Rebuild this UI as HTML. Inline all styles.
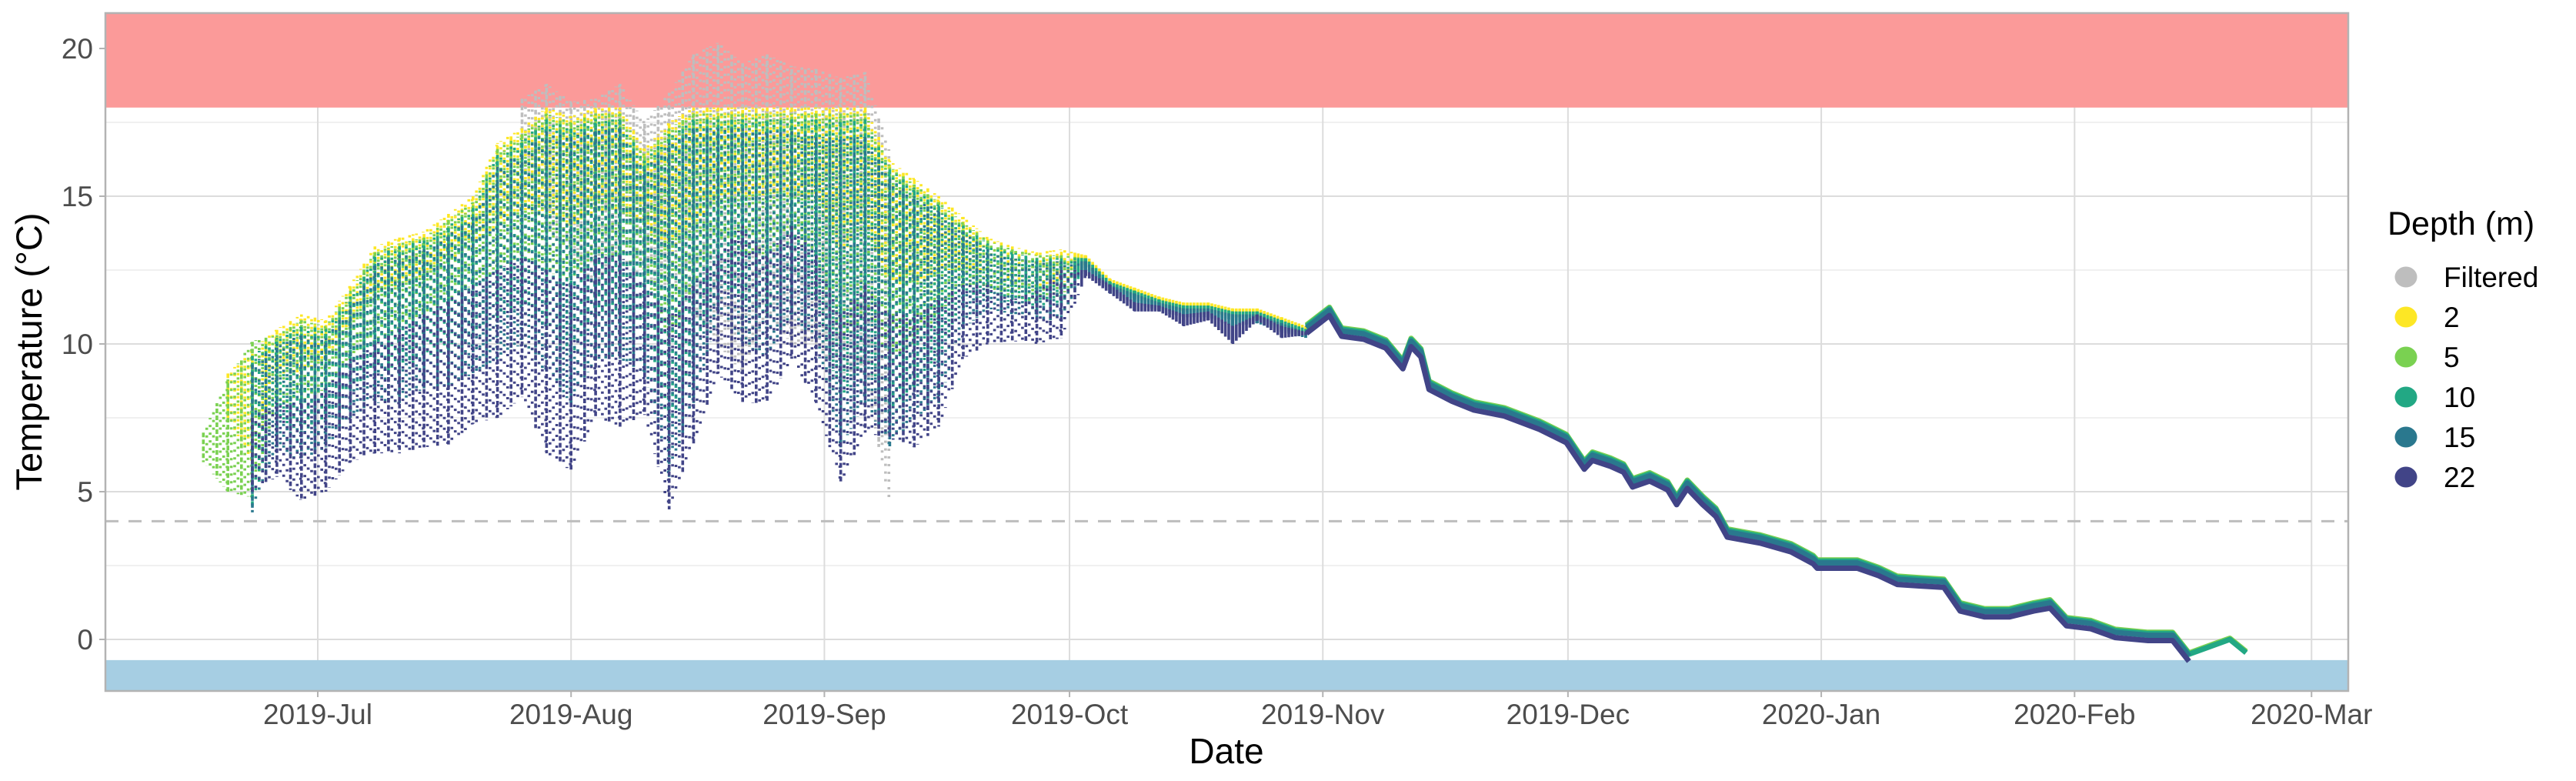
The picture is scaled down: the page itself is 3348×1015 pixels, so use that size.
<!DOCTYPE html>
<html><head><meta charset="utf-8"><title>Temperature by depth</title>
<style>
html,body{margin:0;padding:0;background:#fff;}
svg{display:block;font-family:"Liberation Sans",Arial,sans-serif;}
</style></head>
<body>
<svg id="chart" width="3348" height="1015" viewBox="0 0 3348 1015" xmlns="http://www.w3.org/2000/svg">
  <rect x="0" y="0" width="3348" height="1015" fill="#ffffff"/>
  <g id="grid"></g>
  <g id="bands"></g>
  <g id="marks"></g>
  <g id="axes"></g>
  <text transform="translate(54,457) rotate(-90)" text-anchor="middle" font-size="47" fill="#000">Temperature (°C)</text>
  <text x="1594" y="992" text-anchor="middle" font-size="46" fill="#000">Date</text>
  <g>
    <text x="3103" y="305" font-size="43" fill="#000">Depth (m)</text>
    <g id="legend-items"></g>
  </g>
</svg>
<script>
// ---- data ----
const monthLabels = ["2019-Jul","2019-Aug","2019-Sep","2019-Oct","2019-Nov","2019-Dec","2020-Jan","2020-Feb","2020-Mar"];
const monthDays = [0,31,62,92,123,153,184,215,244]; // days since 2019-07-01
const yTicks = [0,5,10,15,20];
const yMinor = [2.5,7.5,12.5,17.5];
const upperLimit = 18, lowerLimit = -0.7, refLine = 4;
const depthNames = ["Filtered","2","5","10","15","22"];
const depthColors = ["#bebebe","#fde725","#7ad151","#22a884","#2a788e","#414487"];

const sDays = [-14,-11,-8,-5,-2,1,4,7,10,13,16,19,22,25,28,31,34,37,40,43,46,49,52,55,58,61,64,67,70,73,76,79,82,85,88,91,94,97,100,103,106,109,112,115,118,121];
const hi2 = [null,9.0,9.8,10.5,11.0,10.8,12.0,13.3,13.6,13.8,14.4,15.0,16.8,17.3,18.0,17.7,18.0,18.0,16.6,17.5,18.0,18.0,18.0,18.0,18.0,18.0,18.0,18.0,16.2,15.6,15.0,14.3,13.6,13.3,13.1,13.2,13.0,12.2,11.9,11.6,11.4,11.4,11.2,11.2,10.9,10.6];
const lo2 = [null,7.5,6.0,9.0,9.0,9.5,10.5,11.5,12.0,12.3,12.8,13.3,14.0,14.5,14.5,14.0,14.5,14.5,14.0,13.0,14.0,15.0,15.0,15.0,15.0,15.0,13.0,14.0,12.0,12.0,12.5,12.5,12.3,12.0,11.8,12.0,12.7,11.9,11.6,11.3,11.1,11.1,10.9,10.9,10.6,10.3];
const hi5 = [7.0,8.8,10.1,10.3,10.8,10.6,11.8,13.1,13.4,13.6,14.2,14.8,16.6,17.1,17.8,17.5,17.8,17.8,16.4,17.3,17.8,17.8,17.8,17.8,17.8,17.8,17.8,17.8,16.0,15.4,14.8,14.1,13.5,13.2,13.0,13.0,12.9,12.1,11.8,11.5,11.3,11.3,11.1,11.1,10.8,10.5];
const lo5 = [6.0,5.0,4.8,8.0,8.0,8.5,9.5,10.0,10.5,11.0,11.5,12.0,12.5,13.0,12.5,12.0,13.0,13.0,12.5,10.0,12.0,13.5,13.0,13.0,13.5,13.0,10.0,11.0,9.5,10.0,11.0,12.0,11.9,11.6,11.4,11.6,12.7,11.9,11.6,11.3,11.1,11.1,10.9,10.9,10.6,10.3];
const hi10 = [null,null,9.6,10.2,10.6,10.5,11.6,13.0,13.3,13.5,14.0,14.6,16.4,16.9,17.6,17.3,17.6,17.6,16.2,17.1,17.6,17.6,17.6,17.6,17.6,17.6,17.6,17.6,15.9,15.3,14.7,14.0,13.4,13.1,12.9,12.9,12.9,12.1,11.8,11.5,11.3,11.3,11.1,11.1,10.8,10.5];
const lo10 = [null,null,4.5,7.5,7.0,7.5,8.5,9.0,9.2,9.5,9.8,10.2,10.8,11.3,10.5,9.5,11.0,11.0,10.5,7.0,9.5,12.0,11.5,11.0,12.5,11.5,8.0,9.5,7.5,8.5,9.5,11.5,11.6,11.4,11.2,11.3,12.6,11.8,11.5,11.2,11.0,11.0,10.8,10.8,10.5,10.2];
const hi15 = [null,null,9.3,10.0,10.3,10.2,11.3,12.7,13.0,13.2,13.7,14.3,16.0,16.5,17.2,17.0,17.3,17.3,15.9,16.8,17.3,17.3,17.3,17.2,17.2,17.0,17.0,17.0,15.6,15.0,14.5,13.8,13.2,12.9,12.8,12.8,12.8,12.0,11.7,11.4,11.2,11.2,11.0,11.0,10.7,10.4];
const lo15 = [null,null,4.3,6.5,6.0,6.5,7.5,8.0,8.0,8.5,8.5,9.0,9.5,10.0,9.0,8.0,9.5,9.5,9.0,5.5,8.0,11.0,10.0,9.5,11.0,10.0,6.5,8.0,6.5,7.5,8.0,10.5,11.2,11.0,10.8,10.8,12.5,11.7,11.4,11.1,10.9,10.9,10.6,10.7,10.4,10.2];
const hi22 = [null,null,7.5,8.0,8.0,8.5,9.5,10.0,10.5,11.0,11.5,12.0,12.5,13.0,12.5,12.0,13.0,13.0,12.0,11.0,12.0,13.0,14.0,13.0,14.0,13.0,11.0,12.0,11.0,11.0,11.5,12.0,12.0,11.5,11.8,12.5,12.5,12.0,11.4,11.3,11.0,11.1,10.6,11.0,10.6,10.4];
const lo22 = [null,null,5.0,5.5,4.7,5.0,6.0,6.3,6.3,6.5,6.6,7.3,7.5,8.2,6.3,5.7,7.5,7.2,7.6,4.4,6.6,9.0,8.0,8.0,9.5,8.0,5.3,7.0,6.8,6.5,7.2,9.5,10.0,10.1,10.0,10.2,12.3,11.7,11.1,11.1,10.6,10.8,10.0,10.8,10.2,10.3];

const gDays = [25,28,31,34,37,40,43,46,49,52,55,58,61,64,67,70];
const gHi = [18.3,18.8,18.2,18.3,18.8,17.5,18.5,19.8,20.2,19.5,19.8,19.4,19.3,19.0,19.2,16.5];
const gLo = [16.0,14.0,13.0,12.0,13.0,12.0,12.0,11.0,10.0,9.0,11.0,10.0,10.0,9.0,9.0,4.5];

const wDays = [121,123.8,125.3,128,130.7,132.8,133.8,135,136,138.8,141.5,145.2,149.5,152.8,155,156,158.2,159.8,160.9,163,165.2,166.3,167.6,169.5,171.1,172.5,176.5,180.3,183,183.5,188.4,191,193.3,196,199,201,204,207,210,212,214,217,220,224,227,229,232,234,236];
const wTemp = [10.5,11.1,10.4,10.3,10.0,9.3,10.05,9.7,8.6,8.2,7.9,7.7,7.25,6.8,5.9,6.2,6.0,5.8,5.3,5.5,5.2,4.7,5.25,4.7,4.3,3.6,3.4,3.1,2.7,2.55,2.55,2.3,2.0,1.95,1.9,1.1,0.9,0.9,1.1,1.2,0.6,0.5,0.2,0.1,0.1,-0.6,-0.3,-0.1,-0.55];
const wOffset = [0.12,0.14,0.1,0.04,-0.14]; // depth 2,5,10,15,22
const wLastDay = [227,236,236,229,229];

// ---- scales ----
const X0 = 137, X1 = 3052, Y0 = 17, Y1 = 898;
function xs(d){ return 413 + d * 10.62; }
function ys(t){ return 831 - 38.4 * t; }
const NS = "http://www.w3.org/2000/svg";
function mk(tag, attrs, parent){
  const e = document.createElementNS(NS, tag);
  for (const k in attrs) e.setAttribute(k, attrs[k]);
  parent.appendChild(e);
  return e;
}

// grid
const grid = document.getElementById("grid");
yMinor.forEach(v => {
  const l = mk("line", {x1:X0, x2:X1, y1:ys(v), y2:ys(v), stroke:"#ebebeb", "stroke-width":1.5}, grid);
  
  
});
yTicks.forEach(v => {
  const l = mk("line", {x1:X0, x2:X1, y1:ys(v), y2:ys(v), stroke:"#dcdcdc", "stroke-width":2}, grid);
  
  
});
monthDays.forEach(d => {
  const l = mk("line", {x1:xs(d), x2:xs(d), y1:Y0, y2:Y1, stroke:"#dcdcdc", "stroke-width":2}, grid);
  
  
});

// bands
const bands = document.getElementById("bands");
const rUp = mk("rect", {x:X0, y:Y0, width:X1-X0, height:ys(upperLimit)-Y0, fill:"#fb9a99"}, bands);


const rLo = mk("rect", {x:X0, y:ys(lowerLimit), width:X1-X0, height:Y1-ys(lowerLimit), fill:"#a6cee3"}, bands);


const ref = mk("line", {x1:X0, x2:X1, y1:ys(refLine), y2:ys(refLine), stroke:"#bdbdbd", "stroke-width":3, "stroke-dasharray":"17 13"}, bands);



// marks
const marks = document.getElementById("marks");
function drawScatter(days, hi, lo, color, name, sparse){
  const g = mk("g", {}, marks);
  
  
  let k = 0;
  for (let i = 0; i < days.length - 1; i++){
    if (hi[i] == null || hi[i+1] == null) continue;
    const xa = xs(days[i]), xb = xs(days[i+1]);
    for (let x = xa; x < xb; x += 4.4){
      const f = (x - xa) / (xb - xa);
      const h = hi[i] + (hi[i+1]-hi[i]) * f;
      const lw = lo[i] + (lo[i+1]-lo[i]) * f;
      const y1 = ys(h), y2 = ys(lw);
      const spread = y2 - y1;
      const attrs = {x1:x.toFixed(1), x2:x.toFixed(1), y1:y1.toFixed(1), y2:y2.toFixed(1), stroke:color, "stroke-width":3.6};
      if (spread > 30){
        attrs["stroke-dasharray"] = (k % 4 === 0) ? "6 3" : (sparse ? "3 11" : "3 7");
        attrs["stroke-dashoffset"] = (k*7) % 13;
      }
      const ln = mk("line", attrs, g);
      
      
      k++;
    }
  }
}
drawScatter(gDays, gHi, gLo, depthColors[0], "series-filtered", false);
drawScatter(sDays, hi2, lo2, depthColors[1], "series-depth-2", false);
drawScatter(sDays, hi5, lo5, depthColors[2], "series-depth-5", false);
drawScatter(sDays, hi10, lo10, depthColors[3], "series-depth-10", true);
drawScatter(sDays, hi15, lo15, depthColors[4], "series-depth-15", true);
drawScatter(sDays, hi22, lo22, depthColors[5], "series-depth-22", true);

// winter lines
for (let s = 0; s < 5; s++){
  const pts = [];
  for (let i = 0; i < wDays.length; i++){
    if (wDays[i] > wLastDay[s]) break;
    pts.push(xs(wDays[i]).toFixed(1) + "," + ys(wTemp[i] + wOffset[s]).toFixed(1));
  }
  const pl = mk("polyline", {points:pts.join(" "), fill:"none", stroke:depthColors[s+1], "stroke-width":7, "stroke-linejoin":"round"}, marks);
  
  
}

// axes
const axes = document.getElementById("axes");
const border = mk("rect", {x:X0, y:Y0, width:X1-X0, height:Y1-Y0, fill:"none", stroke:"#b3b3b3", "stroke-width":2.5}, axes);


yTicks.forEach(v => {
  const t = mk("line", {x1:X0-8, x2:X0, y1:ys(v), y2:ys(v), stroke:"#b3b3b3", "stroke-width":2}, axes);
  
  
  const tx = mk("text", {x:121, y:ys(v)+13, "text-anchor":"end", "font-size":37, fill:"#4d4d4d"}, axes);
  
  
  tx.textContent = String(v);
});
monthDays.forEach((d, i) => {
  const t = mk("line", {x1:xs(d), x2:xs(d), y1:Y1, y2:Y1+8, stroke:"#b3b3b3", "stroke-width":2}, axes);
  
  
  const tx = mk("text", {x:xs(d), y:941, "text-anchor":"middle", "font-size":37, fill:"#4d4d4d"}, axes);
  
  
  tx.textContent = monthLabels[i];
});

// legend
const li = document.getElementById("legend-items");
depthNames.forEach((n, i) => {
  const cy = 360 + i * 52;
  const c = mk("ellipse", {cx:3127, cy:cy, rx:14.5, ry:13.5, fill:depthColors[i]}, li);
  
  
  const t = mk("text", {x:3176, y:cy+13, "font-size":37, fill:"#000"}, li);
  
  
  t.textContent = n;
});
</script>
</body></html>
